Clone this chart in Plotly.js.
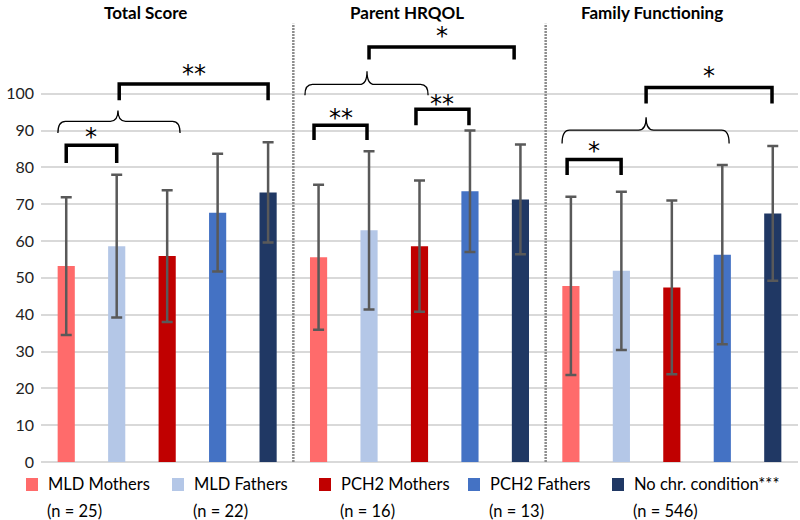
<!DOCTYPE html>
<html>
<head>
<meta charset="utf-8">
<script src="https://cdn.plot.ly/plotly-3.0.1.min.js"></script>
<style>html,body{margin:0;padding:0;background:#fff;}#chart{width:800px;height:520px;}</style>
</head>
<body>
<div id="chart"></div>
<script>
// ---- data ----
const categories = ['Total Score', 'Parent HRQOL', 'Family Functioning'];
const seriesNames = ['MLD Mothers', 'MLD Fathers', 'PCH2 Mothers', 'PCH2 Fathers', 'No chr. condition***'];
const seriesN = ['(n = 25)', '(n = 22)', '(n = 16)', '(n = 13)', '(n = 546)'];
const mldMothers = [53.2, 55.6, 47.8];
const mldFathers = [58.6, 62.9, 51.9];
const pch2Mothers = [55.9, 58.6, 47.4];
const pch2Fathers = [67.7, 73.5, 56.3];
const noCondition = [73.2, 71.3, 67.5];
const sdMldMothers = [18.7, 19.7, 24.2];
const sdMldFathers = [19.4, 21.5, 21.5];
const sdPch2Mothers = [17.9, 17.8, 23.6];
const sdPch2Fathers = [16.0, 16.5, 24.3];
const sdNoCondition = [13.6, 14.9, 18.3];
const yTicks = [0, 10, 20, 30, 40, 50, 60, 70, 80, 90, 100];

const colors = ['#FF6B6B', '#B4C7E7', '#C00000', '#4472C4', '#203864'];
const values = [mldMothers, mldFathers, pch2Mothers, pch2Fathers, noCondition];
const sds = [sdMldMothers, sdMldFathers, sdPch2Mothers, sdPch2Fathers, sdNoCondition];

const traces = values.map((v, i) => ({
  type: 'bar',
  name: seriesNames[i] + ' ' + seriesN[i],
  x: categories,
  y: v,
  marker: {color: colors[i]},
  error_y: {type: 'data', array: sds[i], visible: true, color: '#595959', thickness: 2.5, width: 5.5},
  hoverinfo: 'y'
}));

// ---- significance annotations (brackets, braces) ----
const shapes = [];
const annotations = [];
function bracket(x1, x2, yTop, yLeg, label, yLabel, xLabel) {
  shapes.push({type: 'path', xref: 'x', yref: 'y',
    path: `M${x1},${yLeg} L${x1},${yTop} L${x2},${yTop} L${x2},${yLeg}`,
    line: {color: '#000', width: 3.5}});
  annotations.push({x: xLabel !== undefined ? xLabel : (x1 + x2) / 2, y: yLabel, xref: 'x', yref: 'y',
    text: label, showarrow: false, font: {family: 'DejaVu Sans', size: 24, color: '#000'},
    yanchor: 'middle', height: 20, valign: 'top', borderpad: 0});
}
function brace(x1, x2, xc, yEnd, yH, yPeak) {
  const dx = 0.03;
  const p = `M${x1},${yEnd} Q${x1},${yH} ${x1 + dx},${yH} L${xc - dx},${yH} Q${xc},${yH} ${xc},${yPeak} Q${xc},${yH} ${xc + dx},${yH} L${x2 - dx},${yH} Q${x2},${yH} ${x2},${yEnd}`;
  shapes.push({type: 'path', xref: 'x', yref: 'y', path: p, line: {color: '#000', width: 1.3}});
}
// Total Score
bracket(-0.4, -0.2, 86.0, 81.2, '*', 89.3);
brace(-0.433, 0.051, -0.195, 89.3, 92.5, 95.4);
bracket(-0.19, 0.4, 102.6, 98.2, '**', 106.3);
// Parent HRQOL
bracket(0.582, 0.792, 91.4, 87.4, '**', 94.6);
bracket(0.986, 1.196, 95.8, 91.4, '**', 98.4);
brace(0.546, 1.034, 0.792, 99.6, 102.5, 106.1);
bracket(0.8, 1.375, 112.7, 109.3, '*', 116.7);
// Family Functioning
bracket(1.585, 1.799, 82.1, 77.9, '*', 85.5);
brace(1.565, 2.227, 1.898, 86.5, 90.1, 93.6);
bracket(1.898, 2.397, 101.7, 97.3, '*', 105.8);

// dividers
[0.5, 1.5].forEach(xv => shapes.push({type: 'line', xref: 'x', yref: 'y', x0: xv, x1: xv, y0: 0, y1: 119,
  line: {color: '#8c8c8c', width: 2.5, dash: '2px,1px'}}));

// panel titles
const titleX = [-0.084, 0.951, 1.922];
categories.forEach((c, i) => annotations.push({x: titleX[i], y: 1.018, xref: 'x', yref: 'paper',
  text: '<b>' + c + '</b>', showarrow: false, yanchor: 'middle',
  font: {family: 'Lato', size: 17, color: '#000'}}));

// legend (drawn below the plot, Excel-style two-line entries)
const plotL = 41, plotW = 757, plotB = 462, plotH = 442;
const px2x = p => (p - plotL) / plotW;
const px2y = p => (plotB - p) / plotH;
const legendTextLeft = [47, 193, 340, 489, 633];
seriesNames.forEach((nm, i) => {
  const tl = legendTextLeft[i];
  shapes.push({type: 'rect', xref: 'paper', yref: 'paper',
    x0: px2x(tl - 21), x1: px2x(tl - 9), y0: px2y(491), y1: px2y(478),
    fillcolor: colors[i], line: {width: 0}});
  annotations.push({x: px2x(tl), y: px2y(484), xref: 'paper', yref: 'paper', xanchor: 'left', yanchor: 'middle',
    text: nm, showarrow: false, borderpad: 0, font: {family: 'Lato', size: 16.5, color: '#000'}});
  annotations.push({x: px2x(tl - 1), y: px2y(511), xref: 'paper', yref: 'paper', xanchor: 'left', yanchor: 'middle',
    text: seriesN[i], showarrow: false, borderpad: 0, font: {family: 'Lato', size: 16.5, color: '#000'}});
});

const layout = {
  width: 800, height: 520,
  margin: {l: 41, r: 2, t: 20, b: 58, autoexpand: false},
  paper_bgcolor: '#fff', plot_bgcolor: '#fff',
  barmode: 'group', bargap: 0, bargroupgap: 0.66,
  font: {family: 'Lato', color: '#000'},
  xaxis: {type: 'category', range: [-0.5, 2.5], showticklabels: false, showgrid: false, zeroline: false,
    showline: false, fixedrange: true},
  yaxis: {range: [0, 120], tickvals: yTicks, ticktext: yTicks.map(String), showgrid: true,
    gridcolor: '#d9d9d9', gridwidth: 2, zeroline: true, zerolinecolor: '#d9d9d9', zerolinewidth: 2,
    tickfont: {family: 'Lato', size: 16, color: '#222'}, ticks: '', ticklabelstandoff: 6, fixedrange: true},
  showlegend: false,
  shapes: shapes,
  annotations: annotations
};
Plotly.newPlot('chart', traces, layout, {displayModeBar: false, staticPlot: true});
</script>
</body>
</html>
